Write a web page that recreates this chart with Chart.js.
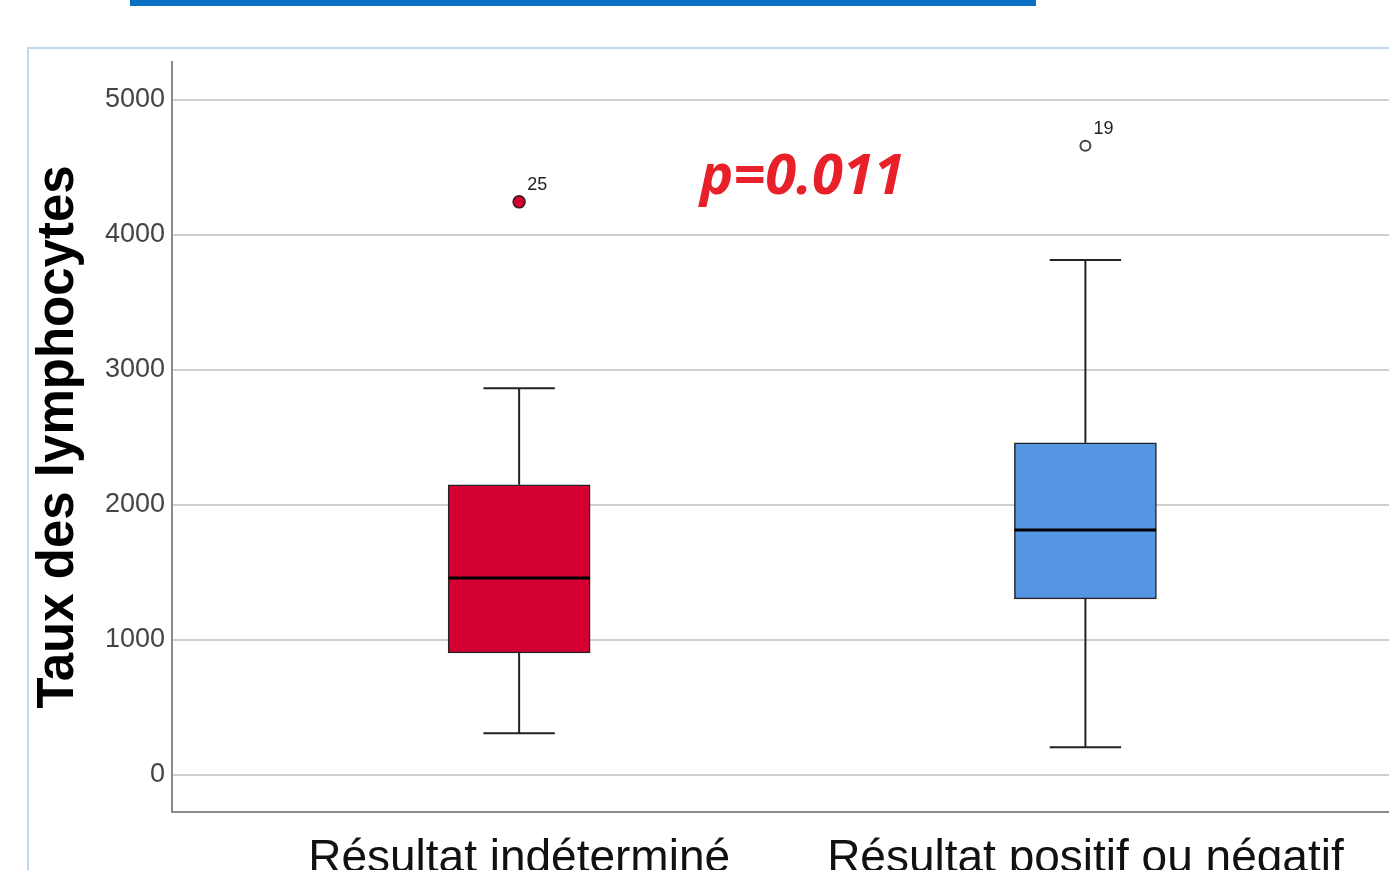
<!DOCTYPE html>
<html lang="fr">
<head>
<meta charset="utf-8">
<title>Taux des lymphocytes</title>
<script src="https://cdn.jsdelivr.net/npm/chart.js@4.4.1/dist/chart.umd.min.js"></script>
<style>
  html, body { margin: 0; padding: 0; background: #fff; }
  body { width: 1389px; height: 870px; position: relative; overflow: hidden; }
  #lienHaut { position: absolute; left: 130px; top: 0; width: 906px; height: 6px; background: #0a6fc2; }
  #cadre { position: absolute; left: 27px; top: 47px; width: 1400px; height: 900px; border: 2px solid #c3d6ee; box-sizing: border-box; }
  #graphique { position: absolute; left: 0; top: 0; }
</style>
</head>
<body>
<div id="lienHaut"></div>
<div id="cadre"></div>
<canvas id="graphique" width="1397" height="870"></canvas>
<script>
// groupes (axe x)
const categories = ["Résultat indéterminé", "Résultat positif ou négatif"];
const positions = [1, 2];

// statistiques des boîtes
const minimums = [310, 205];
const quartile1 = [905, 1305];
const medianes = [1460, 1815];
const quartile3 = [2150, 2460];
const maximums = [2865, 3815];

// valeurs extrêmes + numéro du cas
const extremes = [4245, 4660];
const extremesId = ["25", "19"];

// graduations axe y
const yTicks = [0, 1000, 2000, 3000, 4000, 5000];

const pTexte = "p=0.011";

const couleurs = ["#d50032", "#5596e3"];
const demiBoite = 0.125;
const demiMoustache = 0.063;

// construit les segments (avec trous) pour les moustaches
function segments(i) {
    const x = positions[i];
    return [
        { x: x, y: minimums[i] }, { x: x, y: quartile1[i] }, { x: x, y: null },
        { x: x, y: quartile3[i] }, { x: x, y: maximums[i] }, { x: x, y: null },
        { x: x - demiMoustache, y: minimums[i] }, { x: x + demiMoustache, y: minimums[i] }, { x: x, y: null },
        { x: x - demiMoustache, y: maximums[i] }, { x: x + demiMoustache, y: maximums[i] }
    ];
}

const moustaches = positions.map((_, i) => ({
    type: "line",
    label: "moustache " + i,
    data: segments(i),
    borderColor: "#222",
    borderWidth: 2,
    pointRadius: 0,
    spanGaps: false,
    order: 3
}));

const medianesDs = positions.map((x, i) => ({
    type: "line",
    label: "médiane " + i,
    data: [{ x: x - demiBoite, y: medianes[i] }, { x: x + demiBoite, y: medianes[i] }],
    borderColor: "#000",
    borderWidth: 3,
    pointRadius: 0,
    order: 1
}));

// étiquettes des cas extrêmes + texte p
const texteExtra = {
    id: "texteExtra",
    afterDatasetsDraw(chart) {
        const ctx = chart.ctx;
        const meta = chart.getDatasetMeta(chart.data.datasets.length - 1);
        ctx.save();
        ctx.fillStyle = "#222";
        ctx.font = "18px 'Liberation Sans', Arial, sans-serif";
        ctx.textBaseline = "alphabetic";
        meta.data.forEach((pt, i) => {
            ctx.fillText(extremesId[i], pt.x + 8, pt.y - 12);
        });
        const xs = chart.scales.x, ys = chart.scales.y;
        ctx.fillStyle = "#e8202a";
        ctx.font = "italic bold 56px 'Open Sans', 'Noto Sans', sans-serif";
        ctx.textAlign = "center";
        ctx.fillText(pTexte, xs.getPixelForValue(1.5), ys.getPixelForValue(4300));
        ctx.restore();
    }
};

const ctx = document.getElementById("graphique").getContext("2d");
new Chart(ctx, {
    type: "bar",
    data: {
        datasets: [
            ...moustaches,
            {
                type: "bar",
                label: "boîtes",
                data: positions.map((x, i) => ({ x: x, y: [quartile1[i], quartile3[i]] })),
                backgroundColor: couleurs,
                borderColor: "#222",
                borderWidth: 1.5,
                borderSkipped: false,
                barThickness: 142,
                grouped: false,
                order: 2
            },
            ...medianesDs,
            {
                type: "scatter",
                label: "extrêmes",
                data: positions.map((x, i) => ({ x: x, y: extremes[i] })),
                backgroundColor: [couleurs[0], "#fff"],
                borderColor: ["#3a1a1a", "#444"],
                borderWidth: [1.5, 2],
                pointRadius: [6, 5],
                order: 0
            }
        ]
    },
    options: {
        responsive: false,
        animation: false,
        layout: { padding: { top: 62, right: 0, left: 0, bottom: 0 } },
        plugins: {
            legend: { display: false },
            tooltip: { enabled: false }
        },
        scales: {
            x: {
                type: "linear",
                offset: false,
                min: 0.387,
                max: 2.537,
                afterBuildTicks: s => { s.ticks = positions.map(v => ({ value: v })); },
                afterFit: s => { s.height = 58; s.paddingRight = 0; s.paddingLeft = 0; },
                ticks: {
                    callback: v => categories[positions.indexOf(v)] || "",
                    color: "#111",
                    font: { family: "'Liberation Sans', Arial, sans-serif", size: 46 },
                    padding: 20,
                    maxRotation: 0,
                    autoSkip: false
                },
                grid: { display: false, drawTicks: false },
                border: { display: true, color: "#8a8a8a", width: 2 }
            },
            y: {
                min: -274,
                max: 5281,
                afterBuildTicks: s => { s.ticks = yTicks.map(v => ({ value: v })); },
                afterFit: s => { s.width = 172; },
                ticks: {
                    callback: v => String(v),
                    color: "#444",
                    font: { family: "'Liberation Sans', Arial, sans-serif", size: 27 },
                    padding: 7
                },
                grid: { color: "#cfcfcf", lineWidth: 2, drawTicks: false },
                border: { display: true, color: "#8a8a8a", width: 2 },
                title: {
                    display: true,
                    text: "Taux des lymphocytes",
                    color: "#000",
                    font: { family: "'Liberation Sans', Arial, sans-serif", size: 51, weight: "bold" },
                    padding: { top: 28, bottom: 0 }
                }
            }
        }
    },
    plugins: [texteExtra]
});
</script>
</body>
</html>
